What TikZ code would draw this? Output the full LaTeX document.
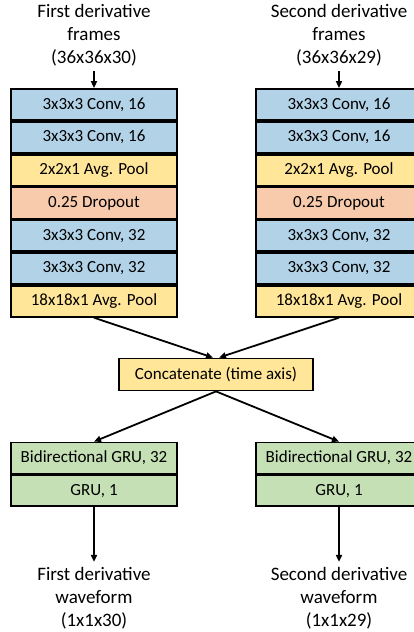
\documentclass[tikz,border=0pt]{standalone}
\usepackage{fontspec}
\setmainfont{Carlito}
\usetikzlibrary{positioning,arrows.meta}
\definecolor{convBlue}{RGB}{178,210,232}
\definecolor{poolYellow}{RGB}{255,230,153}
\definecolor{dropRed}{RGB}{248,203,173}
\definecolor{gruGreen}{RGB}{197,224,180}

\begin{document}
\begin{tikzpicture}[x=1pt,y=-1pt,
    layerbox/.style={draw, line width=1.8pt, minimum width=166pt, minimum height=31pt,
      inner sep=0pt, font=\fontsize{17}{20}\selectfont},
    conv/.style={layerbox, fill=convBlue},
    pool/.style={layerbox, fill=poolYellow},
    drop/.style={layerbox, fill=dropRed},
    gru/.style={layerbox, fill=gruGreen},
    iolabel/.style={align=center, inner sep=5pt, font=\fontsize{19}{23}\selectfont},
    flow/.style={-{Triangle[length=7pt,width=6pt]}, line width=1.8pt}]
  \useasboundingbox (0,0) rectangle (414,632);
  \clip (0,0) rectangle (414,632);
  % two identical 3D-CNN branches
  \foreach \c/\x/\name/\t in {L/94/First/30, R/339/Second/29} {
    \node[iolabel] (in\c) at (\x,35) {\name\ derivative\\frames\\(36x36x\t)};
    \node[conv] (c1\c) at (\x,104.5) {3x3x3 Conv, 16};
    \node[conv, below=0pt of c1\c] (c2\c) {3x3x3 Conv, 16};
    \node[pool, below=0pt of c2\c] (c3\c) {2x2x1 Avg. Pool};
    \node[drop, below=0pt of c3\c] (c4\c) {0.25 Dropout};
    \node[conv, below=0pt of c4\c] (c5\c) {3x3x3 Conv, 32};
    \node[conv, below=0pt of c5\c] (c6\c) {3x3x3 Conv, 32};
    \node[pool, below=0pt of c6\c] (c7\c) {18x18x1 Avg. Pool};
    \draw[flow] (in\c) -- (c1\c);
    % GRU heads
    \node[gru] (g1\c) at (\x,458) {Bidirectional GRU, 32};
    \node[gru, below=0pt of g1\c] (g2\c) {GRU, 1};
    \node[iolabel] (out\c) at (\x,598) {\name\ derivative\\waveform\\(1x1x\t)};
    \draw[flow] (g2\c) -- (out\c);
  }
  \node[pool, minimum width=194pt, minimum height=32pt] (cat) at (216,374.5) {Concatenate (time axis)};
  \draw[flow] (c7L.south) -- ([xshift=-3pt]cat.north);
  \draw[flow] (c7R.south) -- ([xshift=3pt]cat.north);
  \draw[flow] (cat.south) -- (g1L.north);
  \draw[flow] (cat.south) -- (g1R.north);
\end{tikzpicture}
\end{document}
